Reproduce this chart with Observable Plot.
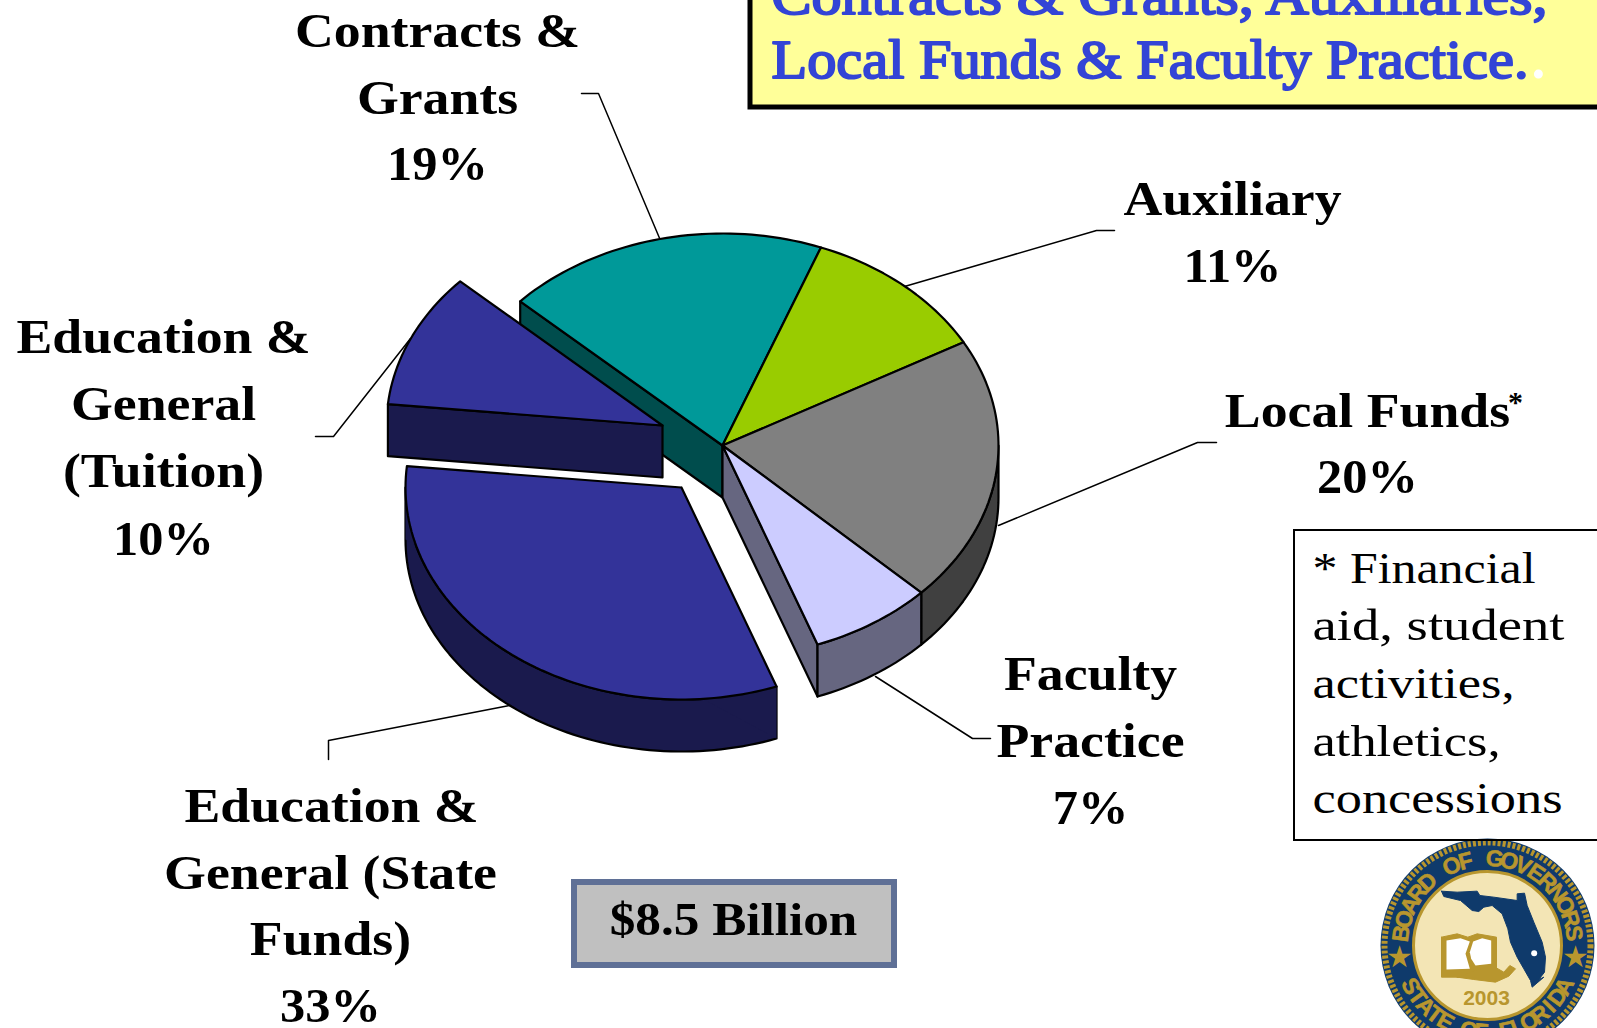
<!DOCTYPE html>
<html>
<head>
<meta charset="utf-8">
<style>html,body{margin:0;padding:0;background:#fff;overflow:hidden}svg{display:block}</style>
<script src="https://cdn.jsdelivr.net/npm/d3@7"></script>
<script src="https://cdn.jsdelivr.net/npm/@observablehq/plot@0.6"></script>
</head>
<body>
<div id="chart"></div>
<script>
// Slice data, clockwise from the Contracts/Auxiliary boundary; shares are as drawn in the picture
const sliceNames = ["Auxiliary", "Local Funds", "Faculty Practice", "E&G State", "E&G Tuition", "Contracts & Grants"];
const sliceShares = [11.1, 20.3, 7.2, 32.2, 10.3, 18.9];
const topColors = ["#99cc00", "#808080", "#ccccff", "#333399", "#333399", "#009999"];
const sideColors = ["#4d6600", "#404040", "#666680", "#1a1a4d", "#1a1a4d", "#004d4d"];

const wordLines = [
  ["Contracts &", 437, 31], ["Grants", 437, 98],
  ["Auxiliary", 1232, 199],
  ["Local Funds", 1367, 411],
  ["Faculty", 1090, 674], ["Practice", 1090, 741],
  ["Education &", 163, 337], ["General", 163, 404], ["(Tuition)", 163, 471],
  ["Education &", 331, 806], ["General (State", 330, 873], ["Funds)", 330, 939]
];
const percentLines = [
  ["19%", 437, 164], ["11%", 1232, 266], ["20%", 1367, 477],
  ["7%", 1090, 808], ["10%", 163, 539], ["33%", 330, 1006]
];
const noteLines = ["* Financial", "aid, student", "activities,", "athletics,", "concessions"];
const titleLines = ["Contracts & Grants, Auxiliaries,", "Local Funds & Faculty Practice."];
const leaders = [
  [[581,93],[598,93],[660,240]],
  [[1114,230],[1096,230],[904,286]],
  [[1216,442],[1197,442],[998,525]],
  [[990,738],[972,738],[875,676]],
  [[328,759],[328,740],[509,705]],
  [[315,436],[333,436],[410,338]]
];

// Layout of the tilted pie
const C = [722, 445], RX = 276, RY = 212, DEPTH = 52, START = 20.9;
const OFFSET_STATE = [-41, 42], OFFSET_TUITION = [-60, -20];
const rad = d => d * Math.PI / 180;
const at = (c, a, dy = 0) => [c[0] + RX * Math.sin(rad(a)), c[1] - RY * Math.cos(rad(a)) + dy];
const arc = (c, a0, a1, dy = 0) => {
  const n = Math.max(2, Math.ceil(Math.abs(a1 - a0) / 1.5)), p = [];
  for (let i = 0; i <= n; i++) p.push(at(c, a0 + (a1 - a0) * i / n, dy));
  return p;
};
let cum = START;
const slices = sliceShares.map((s, i) => {
  const a0 = cum; cum += s * 3.6;
  return {name: sliceNames[i], a0, a1: cum, top: topColors[i], side: sideColors[i]};
});
const [aux, local, faculty, state, tuition, contracts] = slices;
const cState = [C[0] + OFFSET_STATE[0], C[1] + OFFSET_STATE[1]];
const cTuition = [C[0] + OFFSET_TUITION[0], C[1] + OFFSET_TUITION[1]];

const poly = (pts, fill, stroke = "#000", strokeWidth = 2.2) =>
  Plot.line([...pts, pts[0]], {x: d => d[0], y: d => d[1], fill, stroke, strokeWidth, strokeLinejoin: "round", curve: "linear"});
const wedge = (c, s) => poly([c, ...arc(c, s.a0, s.a1)], s.top);
const radialWall = (c, a, color) => poly([c, at(c, a), at(c, a, DEPTH), [c[0], c[1] + DEPTH]], color);
const outerWall = (c, a0, a1, color) => poly([...arc(c, a0, a1), ...arc(c, a1, a0, DEPTH)], color);

const serif = "'Liberation Serif', serif";
const sans = "'Liberation Sans', sans-serif";

// Seal in the corner
const SEAL = [1487, 945];
const sealNavy = "#0f3a6b", sealGold = "#b8962e", sealCream = "#f3e5b5";
const arcLetters = (txt, from, to, r, bottom) => [...txt].map((ch, i) => {
  const a = from + (to - from) * i / (txt.length - 1);
  return bottom
    ? {ch, x: SEAL[0] + r * Math.sin(rad(a)), y: SEAL[1] + r * Math.cos(rad(a)), rot: -a}
    : {ch, x: SEAL[0] + r * Math.sin(rad(a)), y: SEAL[1] - r * Math.cos(rad(a)), rot: a};
});
const letters = [
  ...arcLetters("BOARD OF GOVERNORS", -82, 82, 87, false),
  ...arcLetters("STATE OF FLORIDA", -62, 62, 87, true)
];
const zoomPt = ([x, y]) => [x / 3 + 1360, y / 3 + 825];
const floridaOutline = [[243,197],[290,200],[350,197],[358,210],[400,215],[470,225],[470,205],[492,203],[500,240],[520,290],[545,350],[555,395],[552,440],[535,462],[550,455],[515,485],[510,465],[490,430],[470,395],[450,350],[442,310],[425,265],[395,240],[370,245],[355,258],[335,255],[300,225],[250,213]].map(zoomPt);
const bookCover = [[243,335],[290,325],[322,335],[350,325],[408,335],[408,435],[380,440],[330,455],[243,455]].map(zoomPt);
const pageLeft = [[258,345],[300,338],[328,348],[315,385],[328,430],[258,432]].map(zoomPt);
const pageRight = [[338,348],[365,338],[392,345],[392,415],[345,420],[332,400],[328,380]].map(zoomPt);
const lamp = [[290,455],[345,435],[395,420],[430,440],[448,420],[465,430],[445,452],[405,470],[340,462]].map(zoomPt);

const rect = (x1, y1, x2, y2, fill, stroke, strokeWidth) => Plot.rect([0], {x1: () => x1, y1: () => y1, x2: () => x2, y2: () => y2, fill, stroke, strokeWidth});

const marks = [
  // seal
  Plot.dot([SEAL], {x: d => d[0], y: d => d[1], r: 107, fill: sealNavy, stroke: "none"}),
  Plot.dot([SEAL], {x: d => d[0], y: d => d[1], r: 103, fill: "none", stroke: sealGold, strokeWidth: 6, strokeDasharray: "3 2"}),
  Plot.dot([SEAL], {x: d => d[0], y: d => d[1], r: 74, fill: sealCream, stroke: sealGold, strokeWidth: 3}),
  Plot.text(letters, {x: "x", y: "y", text: "ch", rotate: "rot", fontSize: 23, fontWeight: "bold", fontFamily: sans, fill: sealGold, stroke: sealGold, strokeWidth: 0.6}),
  Plot.text(["★", "★"], {x: (d, i) => SEAL[0] + (i ? 88 : -88), y: SEAL[1] + 12, text: d => d, fontSize: 30, fontFamily: "'DejaVu Sans', sans-serif", fill: sealGold}),
  poly(floridaOutline, sealNavy, sealNavy, 1),
  Plot.dot([zoomPt([521,383])], {x: d => d[0], y: d => d[1], r: 3, fill: "#fff", stroke: "none"}),
  poly(bookCover, sealGold, sealGold, 1),
  poly(pageLeft, "#fff", "none", 0),
  poly(pageRight, "#fff", "none", 0),
  poly(lamp, sealGold, sealGold, 1),
  Plot.text(["2003"], {x: SEAL[0] - 1, y: 998, text: d => d, fontSize: 21, fontWeight: "bold", fontFamily: sans, fill: sealGold}),

  // yellow title box and footnote box
  rect(750, -20, 1610, 107, "#ffff99", "#000", 5),
  Plot.text(titleLines, {x: 771, y: (d, i) => i ? 60 : -4, text: d => d, textAnchor: "start", fontSize: 55, fontFamily: serif, fill: "#3344d6", stroke: "#3344d6", strokeWidth: 2, className: "title-text"}),
  Plot.text(["."], {x: 1531, y: 60, text: d => d, textAnchor: "start", fontSize: 55, fontWeight: "bold", fontFamily: serif, fill: "#fff"}),
  rect(1294, 530, 1610, 840, "none", "#000", 2),
  Plot.text(noteLines, {x: 1312, y: (d, i) => 568 + i * 57.7, text: d => d, textAnchor: "start", fontSize: 44, fontFamily: serif, fill: "#000", className: "note-text"}),

  // leader lines
  ...leaders.map(l => Plot.line(l, {x: d => d[0], y: d => d[1], stroke: "#000", strokeWidth: 1.5})),

  // main pie: walls first, then tops
  radialWall(C, contracts.a0, contracts.side),
  radialWall(C, faculty.a1, faculty.side),
  outerWall(C, 90, local.a1, local.side),
  outerWall(C, faculty.a0, faculty.a1, faculty.side),
  wedge(C, contracts), wedge(C, aux), wedge(C, local), wedge(C, faculty),

  // exploded slices
  outerWall(cState, state.a0, 270, state.side),
  poly([at(cState, 270), at(cState, 270, DEPTH), at(cState, state.a0, DEPTH), at(cState, state.a0)], state.side, "none", 0),
  wedge(cState, state),
  radialWall(cTuition, tuition.a0, tuition.side),
  wedge(cTuition, tuition),

  // labels
  Plot.text(wordLines, {x: d => d[1], y: d => d[2], text: d => d[0], fontSize: 48, fontWeight: "bold", fontFamily: serif, fill: "#000", className: "word-text"}),
  Plot.text(percentLines, {x: d => d[1], y: d => d[2], text: d => d[0], fontSize: 48, fontWeight: "bold", fontFamily: serif, fill: "#000", className: "pct-text"}),
  Plot.text(["*"], {x: 1515, y: 402, text: d => d, fontSize: 30, fontWeight: "bold", fontFamily: serif, fill: "#000"}),

  // total
  rect(574, 882, 894, 965, "#c0c0c0", "#5f7096", 6),
  Plot.text(["$8.5 Billion"], {x: 733, y: 919, text: d => d, fontSize: 47, fontWeight: "bold", fontFamily: serif, fill: "#000", className: "total-text"})
];

const svg = Plot.plot({
  width: 1597, height: 1028, margin: 0,
  x: {domain: [0, 1597], axis: null},
  y: {domain: [1028, 0], axis: null},
  style: {background: "#fff", overflow: "hidden"},
  marks
});
document.getElementById("chart").appendChild(svg);

// Widen the Times-metric glyphs to the broader proportions of the reference's book face
const fit = (t, w) => { t.setAttribute("textLength", w); t.setAttribute("lengthAdjust", "spacingAndGlyphs"); };
const stretch = (cls, k) => svg.querySelectorAll(`.${cls} text`).forEach(t => fit(t, t.getComputedTextLength() * k));
const fitWidths = (cls, widths) => svg.querySelectorAll(`.${cls} text`).forEach((t, i) => fit(t, widths[i]));
stretch("word-text", 1.12);
stretch("pct-text", 1.05);
stretch("total-text", 1.09);
fitWidths("note-text", [223, 252, 202, 188, 250]);
fitWidths("title-text", [776, 757]);
</script>
</body>
</html>
